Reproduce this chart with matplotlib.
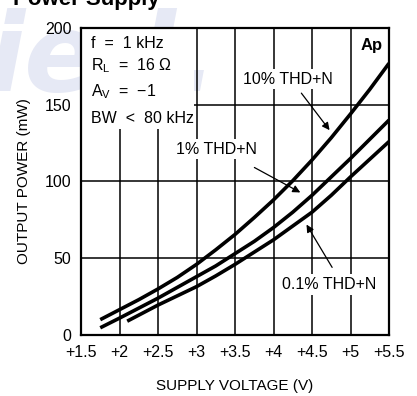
import matplotlib
matplotlib.use("Agg")
import matplotlib.pyplot as plt
from matplotlib.patches import Rectangle

plt.rcParams['font.family'] = ['Liberation Sans', 'DejaVu Sans']
plt.rcParams['mathtext.fontset'] = 'custom'
plt.rcParams['mathtext.rm'] = 'Liberation Sans'
plt.rcParams['mathtext.it'] = 'Liberation Sans'

# output power vs supply voltage, three distortion levels
v_10 = [1.75, 2.0, 2.25, 2.5, 2.75, 3.0, 3.25, 3.5, 3.75, 4.0, 4.25, 4.5, 4.75, 5.0, 5.25, 5.5]
p_10 = [10, 16.5, 23, 30, 37.5, 46, 55.5, 65.5, 76.5, 88, 100.5, 114, 128.5, 144, 160, 177]
v_1 = [1.75, 2.0, 2.25, 2.5, 2.75, 3.0, 3.25, 3.5, 3.75, 4.0, 4.25, 4.5, 4.75, 5.0, 5.25, 5.5]
p_1 = [4.7, 11, 17.5, 24, 31, 38, 45, 53, 61, 70, 80, 91, 103, 115, 127.5, 140]
v_01 = [2.1, 2.5, 2.75, 3.0, 3.25, 3.5, 3.75, 4.0, 4.25, 4.5, 4.75, 5.0, 5.25, 5.5]
p_01 = [9, 19.5, 25.5, 31.5, 38.5, 46, 54, 62, 71, 80, 91, 103, 114.5, 126]

xticks = [1.5, 2.0, 2.5, 3.0, 3.5, 4.0, 4.5, 5.0, 5.5]
xlabels = ['+1.5', '+2', '+2.5', '+3', '+3.5', '+4', '+4.5', '+5', '+5.5']
yticks = [0, 50, 100, 150, 200]

fig = plt.figure(figsize=(4.17, 3.96), dpi=100)
ax = fig.add_axes([81/417, 1-335/396, 308/417, 307/396])
ax.set_facecolor('none')
ax.set_zorder(1)

# faint watermark behind the plot
fig.text(-0.03, 0.77, 'ie.l.', fontsize=78, style='italic', weight='bold',
         color='#e6e9f5', zorder=0, family='DejaVu Sans')

ax.set_xlim(1.5, 5.5)
ax.set_ylim(0, 200)
ax.set_xticks(xticks)
ax.set_xticklabels(xlabels)
ax.set_yticks(yticks)
ax.tick_params(length=0, labelsize=11.5, pad=7)
for t in xticks[1:-1]:
    ax.axvline(t, color='black', lw=1.1, zorder=1)
for t in yticks[1:-1]:
    ax.axhline(t, color='black', lw=1.1, zorder=1)
for s in ax.spines.values():
    s.set_linewidth(1.6)
    s.set_zorder(5)

ax.set_xlabel('SUPPLY VOLTAGE (V)', fontsize=11, labelpad=14)
ax.set_ylabel('OUTPUT POWER (mW)', fontsize=11, labelpad=10)

# white block under the test conditions
ax.add_patch(Rectangle((1.5, 134), 1.47, 66, facecolor='white', edgecolor='none', zorder=2))

for v, p in [(v_10, p_10), (v_1, p_1), (v_01, p_01)]:
    ax.plot(v, p, color='black', lw=2.6, solid_capstyle='butt', zorder=4)

fs = 11.5
ax.text(1.63, 190, 'f  =  1 kHz', fontsize=fs, va='center', zorder=3)
ax.text(1.63, 175.5, r'R$_\mathrm{L}$  =  16 $\Omega$', fontsize=fs, va='center', zorder=3)
ax.text(1.63, 158.3, r'A$_\mathrm{V}$  =  $-$1', fontsize=fs, va='center', zorder=3)
ax.text(1.63, 141.2, 'BW  <  80 kHz', fontsize=fs, va='center', zorder=3)
ax.text(5.28, 188.6, 'Ap', fontsize=12, weight='bold', ha='center', va='center', zorder=3)

box = dict(facecolor='white', edgecolor='none', pad=2)
ax.text(3.60, 166.6, '10% THD+N', fontsize=fs, va='center', bbox=box, zorder=3)
ax.text(2.74, 121, '1% THD+N', fontsize=fs, va='center', bbox=box, zorder=3)
ax.text(4.11, 32.8, '0.1% THD+N', fontsize=fs, va='center', bbox=box, zorder=3)

arrow = dict(arrowstyle='-|>', color='black', lw=0.9, mutation_scale=11)
ax.annotate('', xy=(4.75, 132), xytext=(4.34, 159), arrowprops=arrow, zorder=4)
ax.annotate('', xy=(4.38, 92), xytext=(3.72, 110), arrowprops=arrow, zorder=4)
ax.annotate('', xy=(4.41, 73.5), xytext=(4.78, 42.5), arrowprops=arrow, zorder=4)

fig.text(13/417, 1-5/396, 'Power Supply', fontsize=16, weight='bold', va='baseline')

fig.savefig('out.png', dpi=100)
